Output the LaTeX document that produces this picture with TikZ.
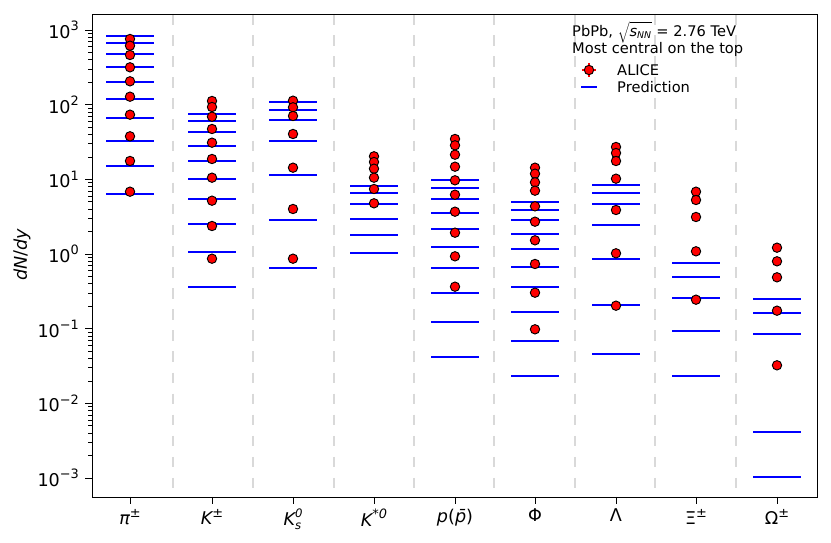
\documentclass[tikz,border=0pt]{standalone}
\usepackage{fontspec}
\setmainfont{DejaVu Sans}
\usetikzlibrary{positioning}
\tikzset{
    pred/.style={draw=blue, line width=1.5pt},
    alice/.style={draw=black, fill=red, line width=0.8pt},
    sep/.style={draw=black!15, line width=2pt, dash pattern=on 9pt off 9pt},
    ticklab/.style={font=\fontsize{15}{17}\selectfont},
    leglab/.style={anchor=west, font=\fontsize{12.5}{14}\selectfont, inner sep=0}
}
\begin{document}
\begin{tikzpicture}[x=0.03cm, y=-0.03cm]
    \useasboundingbox (0,0) rectangle (831,543);

    % category separators
    \foreach \sx in {173,253,334,414,494,575,655,736}
        \draw[sep] (\sx,14) -- (\sx,497);

    % predictions
    \foreach \cx/\ys in {130/{36,43.3,53.7,67.3,82,99.3,118.3,141,166.3,193.7},
        212/{114,121.3,131.7,146,161,179,199.3,224,252.3,286.7},
        293/{102.3,110,120.3,141.3,175,220.3,267.7},
        374/{186,193.3,204.3,219,235,253.3},
        455/{180.3,188,198.7,213.3,229,247.3,268,293,321.7,357},
        535/{202.3,210,220.3,234.3,249.3,266.7,287,312,340.7,376.3},
        616/{185,193,203.7,224.7,259,305,353.7},
        696/{263.3,277.3,297.7,330.7,376},
        777/{299,313,334,432,477}}
        \foreach \py in \ys
            \draw[pred] (\cx-24,\py) -- (\cx+24,\py);

    % ALICE data
    \foreach \cx/\ys in {130/{39,45.7,55,67.3,81.3,96.7,114.7,136.3,161,191.7},
        212/{101,107,116.7,129,142.7,159,177.7,200.7,226,258.7},
        293/{100.7,107.3,116,134,167.7,209,258.7},
        374/{156.3,162,168.7,177.7,189,203.3},
        455/{139,145.3,154.7,166.7,180.3,194.7,211.7,232.7,256.3,286.7},
        535/{167.7,173.7,182.3,190.7,206.3,221.7,240.3,264,292.7,329.3},
        616/{147,153,161,178.7,210,253.3,305.7},
        696/{191.7,200,217,251.3,299.7},
        777/{247.7,261.3,277.3,310.7,365.3}}
        \foreach \py in \ys
            \draw[alice] (\cx,\py) circle (4.7);

    % frame and ticks
    \draw[line width=0.8pt] (92,14) rectangle (817,497);
    \foreach \k/\e in {0/3,1/2,2/1,3/0,4/{−1},5/{−2},6/{−3}} {
        \draw[line width=0.8pt] (92,30+74.67*\k) -- (85,30+74.67*\k);
        \node[ticklab, anchor=east] (y\k) at (83,30+74.67*\k) {10\raisebox{0.8ex}{\fontsize{11}{12}\selectfont\e}};
    }
    \foreach \k in {-1,...,6}
        \foreach \m in {2,...,9} {
            \pgfmathsetmacro\ty{30+74.67*(\k-log10(\m))}
            \ifdim\ty pt>14pt \ifdim\ty pt<497pt
                \draw[line width=0.6pt] (92,\ty) -- (88,\ty);
            \fi\fi
        }
    \foreach \cx/\lab in {130/{\itshape π\upshape\raisebox{0.8ex}{\fontsize{11}{12}\selectfont±}},
        212/{\itshape K\upshape\raisebox{0.8ex}{\fontsize{11}{12}\selectfont±}},
        293/{\itshape K\rlap{\raisebox{-0.45ex}{\fontsize{10}{11}\selectfont s}}\raisebox{0.8ex}{\fontsize{10}{11}\selectfont 0}},
        374/{\itshape K\raisebox{0.8ex}{\fontsize{11}{12}\selectfont *0}},
        455/{\itshape p\upshape(\itshape p̄\upshape)},
        535/{Φ}, 616/{Λ},
        696/{Ξ\raisebox{0.8ex}{\fontsize{11}{12}\selectfont±}},
        777/{Ω\raisebox{0.8ex}{\fontsize{11}{12}\selectfont±}}} {
        \draw[line width=0.8pt] (\cx,497) -- (\cx,504);
        \node[ticklab, anchor=north] at (\cx,505) {\lab};
    }
    \node[ticklab, rotate=90] (ylab) at (22,255) {\itshape dN\upshape/\itshape dy};

    % legend
    \node[leglab] (info) at (572,32)
        {PbPb, $\sqrt{\mathstrut\textit{s}_{\textit{\fontsize{8}{9}\selectfont NN}}}$ = 2.76 TeV};
    \node[leglab] (cent) at (572,49) {Most central on the top};
    \draw[red, line width=1.2pt] (589,63) -- (589,77) (582,70) -- (596,70);
    \draw[alice] (589,70) circle (4.7);
    \node[leglab] (alab) at (617,70) {ALICE};
    \draw[pred] (581,87) -- (597,87);
    \node[leglab] (plab) at (617,87) {Prediction};
\end{tikzpicture}
\end{document}
